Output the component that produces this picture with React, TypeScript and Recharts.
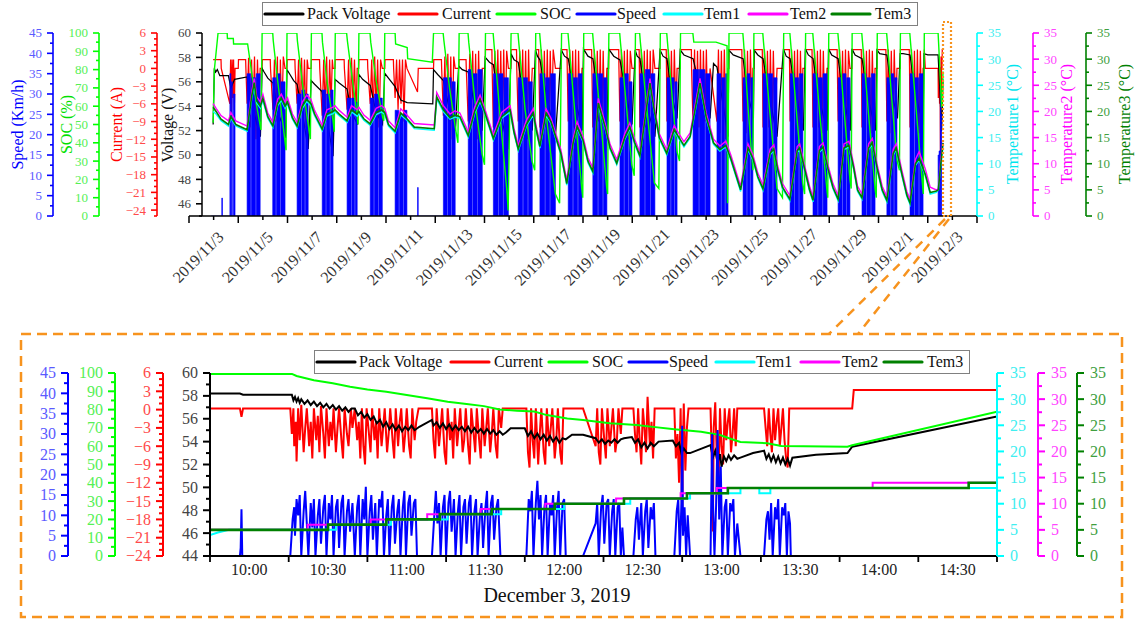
import React from 'react';
import { ComposedChart, Line, Area, XAxis, YAxis, ReferenceLine, Legend } from 'recharts';

const FONT = '"Liberation Serif", "Times New Roman", Times, serif';

// ---------------- names / colours ----------------
const seriesNames = ['Pack Voltage', 'Current', 'SOC', 'Speed', 'Tem1', 'Tem2', 'Tem3'];
const seriesColors = ['#000000', '#ff0000', '#00ff00', '#0000ff', '#00ffff', '#ff00ff', '#008000'];

// ---------------- top chart (days since 2019/11/3 00:00) ----------------
const topDayTicks = [0,1,2,3,4,5,6,7,8,9,10,11,12,13,14,15,16,17,18,19,20,21,22,23,24,25,26,27,28,29,30,31,32];
const topDateLabels = ['2019/11/3','2019/11/5','2019/11/7','2019/11/9','2019/11/11','2019/11/13','2019/11/15','2019/11/17','2019/11/19','2019/11/21','2019/11/23','2019/11/25','2019/11/27','2019/11/29','2019/12/1','2019/12/3'];

const topSpeedTicks = [0,2.5,5,7.5,10,12.5,15,17.5,20,22.5,25,27.5,30,32.5,35,37.5,40,42.5,45];
const topSpeedMajors = [0,5,10,15,20,25,30,35,40,45];
const socTicks = [0,5,10,15,20,25,30,35,40,45,50,55,60,65,70,75,80,85,90,95,100];
const socMajors = [0,10,20,30,40,50,60,70,80,90,100];
const topCurTicks = [-25,-24,-23,-22,-21,-20,-19,-18,-17,-16,-15,-14,-13,-12,-11,-10,-9,-8,-7,-6,-5,-4,-3,-2,-1,0,1,2,3,4,5,6];
const curMajors = [-24,-21,-18,-15,-12,-9,-6,-3,0,3,6];
const topVoltTicks = [45,46,47,48,49,50,51,52,53,54,55,56,57,58,59,60];
const topVoltMajors = [46,48,50,52,54,56,58,60];
const temTicks = [0,2.5,5,7.5,10,12.5,15,17.5,20,22.5,25,27.5,30,32.5,35];
const temMajors = [0,5,10,15,20,25,30,35];

type P = [number, number];

const topSpeed: P[] = [
  [0.9,0],[1.3,0],[1.33,4.4],[1.36,0],[1.66,35],[1.7,0],[1.72,33],[1.76,0],[1.8,30],[1.87,0],
  [2.36,35],[2.5,0],[2.53,34],[2.7,0],[2.73,35],[2.89,0],
  [3.4,34],[3.52,0],[3.55,35],[3.7,0],[3.73,33],[3.9,0],
  [4.39,30],[4.55,0],[4.58,31],[4.7,0],[4.73,30],[4.84,0],
  [5.41,31],[5.55,0],[5.58,30],[5.72,0],[5.75,31],[5.85,0],
  [6.42,29],[6.58,0],[6.61,29],[6.72,0],[6.75,28],[6.83,0],
  [7.36,29],[7.5,0],[7.53,30],[7.68,0],[7.71,29],[7.85,0],
  [8.37,26],[8.52,0],[8.55,25],[8.7,0],[8.73,26],[8.85,0],
  [9.28,7],[9.31,0],
  [10.33,34],[10.48,0],[10.51,34],[10.65,0],[10.68,33],[10.81,0],
  [11.34,36],[11.5,0],[11.53,35],[11.7,0],[11.73,36],[11.91,0],
  [12.36,35],[12.55,0],[12.58,35],[12.75,0],[12.78,34],[12.97,0],
  [13.37,34],[13.55,0],[13.58,34],[13.75,0],[13.78,33],[13.94,0],
  [14.25,35],[14.45,0],[14.48,34],[14.65,0],[14.68,35],[14.88,0],
  [15.4,35],[15.58,0],[15.61,34],[15.78,0],[15.81,35],[15.96,0],
  [16.4,35],[16.6,0],[16.63,35],[16.8,0],[16.83,34],[16.97,0],
  [17.5,34],[17.66,0],[17.69,35],[17.84,0],[17.87,33],[17.99,0],
  [18.31,35],[18.5,0],[18.53,36],[18.72,0],[18.75,35],[18.92,0],
  [19.41,34],[19.55,0],[19.58,34],[19.7,0],[19.73,33],[19.82,0],
  [20.47,36],[20.7,0],[20.73,36],[20.95,0],[20.98,35],[21.16,0],
  [21.44,35],[21.6,0],[21.63,34],[21.76,0],[21.79,35],[21.89,0],
  [22.5,34],[22.64,0],[22.67,35],[22.78,0],[22.81,34],[22.9,0],
  [23.31,35],[23.5,0],[23.53,35],[23.7,0],[23.73,34],[23.88,0],
  [24.41,35],[24.58,0],[24.61,34],[24.76,0],[24.79,35],[24.93,0],
  [25.34,35],[25.52,0],[25.55,34],[25.72,0],[25.75,35],[25.91,0],
  [26.36,34],[26.52,0],[26.55,35],[26.68,0],[26.71,34],[26.84,0],
  [27.33,35],[27.5,0],[27.53,34],[27.68,0],[27.71,35],[27.86,0],
  [28.34,34],[28.48,0],[28.51,35],[28.62,0],[28.65,34],[28.75,0],
  [29.28,35],[29.45,0],[29.48,34],[29.63,0],[29.66,35],[29.81,0],
  [30.42,15],[30.45,0],[30.46,16],[30.5,0],[30.51,32],[30.53,0],[30.54,25],[30.56,0],[30.62,0],
];

const topSoc: P[] = [
  [0.98,51],[1.03,80],[1.18,100],[1.55,100],[1.56,97],[1.8,97],[1.81,94],[2.38,94],[2.55,78],[2.75,60],[2.92,47],[2.97,100],
  [3.4,100],[3.42,96],[3.6,74],[3.8,52],[3.94,36],[3.98,100],
  [4.38,100],[4.4,96],[4.6,73],[4.82,52],[4.93,42],[4.97,100],
  [5.4,100],[5.42,95],[5.62,72],[5.85,52],[5.9,46],[5.94,100],
  [6.4,100],[6.43,96],[6.62,76],[6.83,55],[6.86,50],[6.9,100],
  [7.35,100],[7.38,95],[7.6,74],[7.86,54],[7.91,52],[7.95,100],
  [8.37,100],[8.39,94],[8.86,92],[8.88,86],[9.88,84],[9.93,100],
  [10.32,100],[10.35,96],[10.58,70],[10.82,48],[10.92,40],[10.97,100],
  [11.33,100],[11.36,95],[11.62,62],[11.9,34],[12.0,28],[12.04,100],
  [12.35,100],[12.38,95],[12.65,52],[12.92,12],[12.96,3],[13.08,100],
  [13.36,100],[13.39,95],[13.65,58],[13.93,30],[14.04,25],[14.08,100],
  [14.24,100],[14.27,95],[14.55,50],[14.88,12],[15.05,7],[15.13,100],
  [15.39,100],[15.42,95],[15.7,52],[15.95,15],[15.99,10],[16.03,100],
  [16.39,100],[16.42,95],[16.7,55],[16.96,16],[17.0,12],[17.05,100],
  [17.49,100],[17.52,95],[17.75,62],[17.98,28],[18.08,22],[18.13,100],
  [18.3,100],[18.33,95],[18.62,55],[18.9,18],[19.08,15],[19.14,100],
  [19.4,100],[19.43,95],[19.62,65],[19.82,35],[19.92,30],[19.96,100],
  [20.46,100],[20.5,95],[21.4,95],[21.85,93],[21.87,7],[21.93,100],
  [22.49,100],[22.52,95],[22.7,60],[22.9,25],[22.94,100],
  [23.3,100],[23.33,95],[23.6,55],[23.88,15],[24.1,10],[24.15,100],
  [24.4,100],[24.43,95],[24.68,55],[24.92,18],[25.0,12],[25.04,100],
  [25.33,100],[25.36,95],[25.62,55],[25.9,15],[25.94,10],[25.98,100],
  [26.35,100],[26.38,95],[26.6,58],[26.84,20],[26.89,15],[26.93,100],
  [27.32,100],[27.35,95],[27.6,55],[27.86,15],[27.91,10],[27.95,100],
  [28.33,100],[28.36,95],[28.55,62],[28.76,30],[28.85,25],[28.89,100],
  [29.27,100],[29.3,95],[29.55,55],[29.8,15],[29.82,12],[29.86,100],
  [30.42,100],[30.45,92],[30.56,60],[30.58,60],[30.62,79],
];

const topVolt: P[] = [
  [0.98,52.5],[1.03,57.1],[1.08,56.8],[1.15,57.0],[1.25,56.5],[1.6,56.5],[1.7,55.5],[1.85,56.2],[2.36,56.4],[2.5,54.5],[2.7,53],[2.9,51.5],
  [2.97,57.1],[3.05,56.8],[3.2,56.3],[3.41,55.9],[3.6,53.5],[3.8,52.5],[3.92,51.4],
  [3.98,57.0],[4.1,56.6],[4.25,56.1],[4.39,55.8],[4.6,53.5],[4.84,50.5],
  [4.96,56.1],[5.1,55.8],[5.4,55.2],[5.6,53],[5.85,49.9],
  [5.93,56.2],[6.1,55.9],[6.42,55.4],[6.6,53.5],[6.85,52.5],
  [6.9,56.6],[7.05,56.2],[7.36,55.7],[7.6,53.5],[7.86,52.5],
  [7.95,56.7],[8.1,56.3],[8.37,55.6],[8.6,54.5],[8.86,54.3],[9.9,54.2],
  [9.93,57.0],[10.1,56.6],[10.33,56.1],[10.6,53.5],[10.82,52],
  [10.95,57.3],[11.1,57.0],[11.34,56.8],[11.6,54],[11.9,52],
  [12.03,58.0],[12.2,57.6],[12.36,57.4],[12.6,54],[12.95,50.5],
  [13.08,58.3],[13.2,57.8],[13.37,57.6],[13.6,54.5],[13.94,52],
  [14.07,58.6],[14.15,58.1],[14.25,57.8],[14.5,55],[14.88,51.5],
  [15.12,58.6],[15.25,58.1],[15.4,57.9],[15.7,54.5],[15.97,52],
  [16.02,58.7],[16.2,58.1],[16.4,57.9],[16.7,54],[16.97,51.5],
  [17.04,58.7],[17.25,58.1],[17.5,57.8],[17.75,55],[17.99,52.5],
  [18.12,58.6],[18.2,58.1],[18.31,57.9],[18.6,54],[18.92,51.5],
  [19.13,58.6],[19.25,58.1],[19.41,57.9],[19.6,55],[19.82,53],
  [19.95,58.6],[20.1,58.2],[20.47,57.9],[20.8,55],[21.16,53],[21.3,57.5],[21.44,57.2],[21.7,54],[21.89,51.5],
  [21.92,58.6],[22.1,58.2],[22.5,57.9],[22.7,55],[22.92,53],
  [22.95,58.6],[23.1,58.2],[23.31,57.9],[23.6,54.5],[23.88,51.5],
  [24.14,58.7],[24.25,58.1],[24.41,57.9],[24.7,54.5],[24.95,52],
  [25.03,58.7],[25.15,58.2],[25.34,57.9],[25.6,54.5],[25.92,52],
  [25.97,58.7],[26.1,58.2],[26.36,57.9],[26.6,54.5],[26.86,52],
  [26.92,58.7],[27.05,58.2],[27.33,57.9],[27.6,54.5],[27.88,52],
  [27.94,58.6],[28.05,58.3],[28.34,58.2],[28.55,55],[28.77,53],
  [28.88,58.3],[29.0,58.3],[29.28,58.2],[29.5,55],[29.81,52.5],
  [29.85,58.3],[30.0,58.2],[30.42,58.2],[30.5,55],[30.56,52],[30.58,53],[30.62,56.2],
];

const topCurrent: P[] = [
  [0.98,1.5],[1.3,1.5],[1.31,0],[1.66,-6],[1.69,1.5],[1.72,-8],[1.75,1.5],[1.78,-5],[1.81,1.5],[1.84,-7],[1.87,0],[2.0,0],[2.01,1.5],[2.3,1.5],[2.31,0],
  [2.36,-6],[2.42,1.8],[2.48,-10],[2.54,1.5],[2.6,-8],[2.66,2],[2.72,-12],[2.78,1.5],[2.84,-7],[2.89,0],
  [2.97,0],[2.98,1.5],[3.3,1.5],[3.31,0],
  [3.41,-7],[3.47,1.5],[3.53,-9],[3.59,2],[3.65,-18],[3.71,1.5],[3.77,-8],[3.83,2],[3.9,0],
  [3.98,0],[3.99,1.5],[4.3,1.5],[4.31,0],
  [4.39,-6],[4.45,1.5],[4.51,-9],[4.57,1.8],[4.63,-7],[4.69,1.5],[4.75,-10],[4.8,1.5],[4.84,0],
  [4.96,0],[4.97,1.5],[5.3,1.5],[5.31,0],
  [5.41,-8],[5.47,1.5],[5.53,-7],[5.59,2],[5.65,-10],[5.71,1.5],[5.77,-6],[5.82,1.5],[5.85,0],
  [5.93,0],[5.94,1.5],[6.3,1.5],[6.31,0],
  [6.42,-7],[6.48,1.5],[6.54,-9],[6.6,1.8],[6.66,-6],[6.72,1.5],[6.78,-8],[6.83,0],
  [6.89,0],[6.9,1.5],[7.25,1.5],[7.26,0],
  [7.36,-6],[7.42,1.5],[7.48,-8],[7.54,2],[7.6,-7],[7.66,1.5],[7.72,-10],[7.78,1.5],[7.85,0],
  [7.95,0],[7.96,1.5],[8.3,1.5],[8.31,0],
  [8.37,-5],[8.43,1.5],[8.49,-7],[8.55,1.5],[8.61,-6],[8.67,1.5],[8.73,-9],[8.79,1.5],[8.85,0],
  [9.28,-4],[9.31,0],
  [9.93,0],[9.94,1.5],[10.25,1.5],[10.26,0],
  [10.33,-8],[10.39,2],[10.45,-10],[10.51,2.5],[10.57,-9],[10.63,2],[10.69,-12],[10.75,2],[10.81,0],
  [10.96,0],[10.97,1.5],[11.25,1.5],[11.26,0],
  [11.34,-9],[11.4,2.5],[11.46,-11],[11.52,3],[11.58,-10],[11.64,2.5],[11.7,-12],[11.76,3],[11.82,-9],[11.91,0],
  [12.03,0],[12.04,3.2],[12.3,3.2],[12.31,0],
  [12.36,-10],[12.42,3],[12.48,-12],[12.54,3.2],[12.6,-9],[12.66,3],[12.72,-11],[12.78,3.2],[12.84,-10],[12.9,3],[12.97,0],
  [13.07,0],[13.08,3.2],[13.3,3.2],[13.31,0],
  [13.37,-9],[13.43,3],[13.49,-11],[13.55,3.2],[13.61,-10],[13.67,3],[13.73,-12],[13.79,3.2],[13.85,-9],[13.94,0],
  [14.07,0],[14.08,3.2],[14.2,3.2],[14.21,0],
  [14.25,-10],[14.31,3.2],[14.37,-12],[14.43,3],[14.49,-10],[14.55,3.2],[14.61,-11],[14.67,3],[14.73,-9],[14.79,3.2],[14.88,0],
  [15.12,0],[15.13,3.2],[15.35,3.2],[15.36,0],
  [15.4,-9],[15.46,3.2],[15.52,-11],[15.58,3],[15.64,-10],[15.7,3.2],[15.76,-12],[15.82,3],[15.88,-9],[15.96,0],
  [16.02,0],[16.03,3.2],[16.35,3.2],[16.36,0],
  [16.4,-10],[16.46,3.2],[16.52,-12],[16.58,3],[16.64,-9],[16.7,3.2],[16.76,-11],[16.82,3],[16.88,-10],[16.97,0],
  [17.04,0],[17.05,3.2],[17.45,3.2],[17.46,0],
  [17.5,-9],[17.56,3.2],[17.62,-11],[17.68,3],[17.74,-10],[17.8,3.2],[17.86,-12],[17.92,3],[17.99,0],
  [18.12,0],[18.13,3.2],[18.28,3.2],[18.29,0],
  [18.31,-10],[18.37,3.2],[18.43,-12],[18.49,3],[18.55,-10],[18.61,3.2],[18.67,-11],[18.73,3],[18.79,-9],[18.85,3.2],[18.92,0],
  [19.13,0],[19.14,3.2],[19.38,3.2],[19.39,0],
  [19.41,-9],[19.47,3.2],[19.53,-11],[19.59,3],[19.65,-10],[19.71,3.2],[19.77,-8],[19.82,0],
  [19.95,0],[19.96,3.2],[20.4,3.2],[20.41,0],
  [20.47,-10],[20.53,3.2],[20.59,-12],[20.65,3],[20.71,-10],[20.77,3.2],[20.83,-11],[20.89,3],[20.95,-9],[21.01,3.2],[21.07,-10],[21.16,0],
  [21.44,-9],[21.5,3.2],[21.56,-11],[21.62,3],[21.68,-10],[21.74,3.2],[21.8,-12],[21.89,0],
  [21.92,0],[21.93,3.2],[22.45,3.2],[22.46,0],
  [22.5,-9],[22.56,3.2],[22.62,-11],[22.68,3],[22.74,-10],[22.8,3.2],[22.86,-9],[22.9,0],
  [22.94,0],[22.95,3.2],[23.28,3.2],[23.29,0],
  [23.31,-10],[23.37,3.2],[23.43,-12],[23.49,3],[23.55,-10],[23.61,3.2],[23.67,-11],[23.73,3],[23.79,-9],[23.88,0],
  [24.14,0],[24.15,3.2],[24.38,3.2],[24.39,0],
  [24.41,-9],[24.47,3.2],[24.53,-11],[24.59,3],[24.65,-10],[24.71,3.2],[24.77,-12],[24.83,3],[24.89,-9],[24.93,0],
  [25.03,0],[25.04,3.2],[25.3,3.2],[25.31,0],
  [25.34,-10],[25.4,3.2],[25.46,-12],[25.52,3],[25.58,-10],[25.64,3.2],[25.7,-11],[25.76,3],[25.82,-9],[25.91,0],
  [25.97,0],[25.98,3.2],[26.32,3.2],[26.33,0],
  [26.36,-9],[26.42,3.2],[26.48,-11],[26.54,3],[26.6,-10],[26.66,3.2],[26.72,-12],[26.78,3],[26.84,0],
  [26.92,0],[26.93,3.2],[27.3,3.2],[27.31,0],
  [27.33,-10],[27.39,3.2],[27.45,-12],[27.51,3],[27.57,-10],[27.63,3.2],[27.69,-11],[27.75,3],[27.81,-9],[27.86,0],
  [27.94,0],[27.95,3.2],[28.3,3.2],[28.31,0],
  [28.34,-9],[28.4,3.2],[28.46,-11],[28.52,3],[28.58,-10],[28.64,3.2],[28.7,-8],[28.75,0],
  [28.88,0],[28.89,3.2],[29.25,3.2],[29.26,0],
  [29.28,-10],[29.34,3.2],[29.4,-12],[29.46,3],[29.52,-10],[29.58,3.2],[29.64,-11],[29.7,3],[29.76,-9],[29.81,0],
  [29.85,0],[29.86,3.2],[29.9,0],[30.42,0],
  [30.43,-5],[30.46,0.2],[30.48,-6],[30.5,0.2],[30.52,-19],[30.54,2],[30.55,-5],[30.56,0],[30.58,0],[30.59,3.2],[30.62,3.2],
];

// [t, Tem1, Tem2, Tem3]
const topTem: [number, number, number, number][] = [
  [0.98,20.0,21.5,20.8],[1.1,19.5,20.6,20.0],[1.3,18.2,19.2,18.5],[1.6,17.2,18.2,17.5],[1.7,18.7,19.8,19.0],[1.9,17.2,18.2,17.5],
  [2.36,16.2,17.2,16.5],[2.55,22.6,23.8,23.0],[2.65,25.0,26.3,25.5],[2.75,21.6,22.8,22.0],[2.9,20.6,21.8,21.0],[3.0,22.1,23.3,22.5],
  [3.2,18.7,19.7,19.0],[3.41,16.9,17.9,17.2],[3.6,21.1,22.3,21.5],[3.75,22.1,23.3,22.5],[3.9,20.6,21.8,21.0],[4.0,21.4,22.6,21.8],
  [4.2,18.5,19.5,18.8],[4.39,16.9,17.9,17.2],[4.6,20.6,21.8,21.0],[4.78,21.9,23.1,22.3],[4.95,21.1,22.3,21.5],[5.1,19.2,20.2,19.5],
  [5.41,16.3,17.3,16.6],[5.6,19.1,20.3,19.5],[5.85,19.6,20.8,20.0],[5.93,19.9,21.1,20.3],[6.1,19.2,20.2,19.5],[6.42,17.9,18.9,18.2],
  [6.6,19.9,21.1,20.3],[6.83,19.1,20.3,19.5],[6.9,19.6,20.8,20.0],[7.1,18.3,19.3,18.6],[7.36,17.3,18.3,17.6],[7.6,19.4,20.6,19.8],
  [7.82,19.9,21.1,20.3],[7.95,19.4,20.6,19.8],[8.1,17.2,18.2,17.5],[8.37,15.9,16.9,16.2],[8.6,19.3,20.5,19.7],[8.85,18.3,19.3,18.6],
  [9.15,16.7,17.7,17.0],[9.96,16.4,17.4,16.7],[10.06,22.4,23.6,22.8],[10.33,19.9,21.1,20.3],[10.6,18.5,19.5,18.8],[10.8,18.9,20.1,19.3],
  [11.0,18.7,19.7,19.0],[11.34,15.1,16.1,15.4],[11.6,19.6,20.8,20.0],[11.82,21.9,23.1,22.3],[12.0,19.7,20.7,20.0],[12.36,14.5,15.5,14.8],
  [12.7,18.7,19.8,19.0],[13.04,19.9,21.1,20.3],[13.2,15.7,16.7,16.0],[13.37,12.5,13.5,12.8],[13.7,17.2,18.3,17.5],[13.98,19.3,20.5,19.7],
  [14.1,16.2,17.2,16.5],[14.25,13.0,14.0,13.3],[14.5,19.3,20.5,19.7],[14.7,17.7,18.7,18.0],[14.9,14.7,15.7,15.0],[15.1,11.7,12.7,12.0],
  [15.34,5.9,6.9,6.2],[15.6,13.7,14.8,14.0],[15.76,16.8,18.0,17.1],[16.0,14.2,15.2,14.5],[16.2,10.2,11.2,10.5],[16.4,8.2,9.2,8.5],
  [16.62,21.2,22.5,21.6],[16.9,16.7,17.7,17.0],[17.1,12.7,13.7,13.0],[17.37,9.8,10.8,10.1],[17.7,14.7,15.8,15.0],[17.9,16.7,17.8,17.0],
  [18.1,13.7,14.7,14.0],[18.31,11.2,12.2,11.5],[18.72,25.0,26.3,25.4],[18.9,19.7,20.7,20.0],[19.1,14.7,15.7,15.0],[19.4,11.7,12.7,12.0],
  [19.7,16.2,17.3,16.5],[19.9,14.7,15.7,15.0],[20.1,13.2,14.2,13.5],[20.35,14.9,15.9,15.2],[20.75,25.0,26.3,25.4],[21.0,18.7,19.7,19.0],
  [21.3,13.7,14.7,14.0],[21.56,12.4,13.4,12.7],[21.8,13.2,14.3,13.5],[22.0,10.7,11.7,11.0],[22.4,4.7,5.7,5.0],[22.7,12.7,13.8,13.0],
  [22.9,10.7,11.7,11.0],[23.1,7.2,8.2,7.5],[23.31,4.9,5.9,5.2],[23.6,11.7,12.8,12.0],[23.75,12.5,13.6,12.8],[23.9,8.7,9.7,9.0],
  [24.1,5.2,6.2,5.5],[24.4,2.9,3.9,3.2],[24.7,12.2,13.3,12.5],[24.8,12.7,13.8,13.0],[25.0,8.7,9.7,9.0],[25.2,4.7,5.7,5.0],
  [25.34,2.7,3.7,3.0],[25.6,12.2,13.3,12.5],[25.75,12.9,14.0,13.2],[25.95,8.7,9.7,9.0],[26.15,5.2,6.2,5.5],[26.36,2.9,3.9,3.2],
  [26.6,12.7,13.8,13.0],[26.8,13.2,14.3,13.5],[27.0,8.7,9.7,9.0],[27.15,4.7,5.7,5.0],[27.33,3.2,4.2,3.5],[27.6,12.7,13.8,13.0],
  [27.75,13.7,14.8,14.0],[27.95,8.7,9.7,9.0],[28.15,4.7,5.7,5.0],[28.34,2.7,3.7,3.0],[28.6,11.7,12.8,12.0],[28.72,12.7,13.8,13.0],
  [28.95,7.7,8.7,8.0],[29.15,3.7,4.7,4.0],[29.28,2.2,3.2,2.5],[29.5,9.7,10.8,10.0],[29.65,10.7,12.3,11.0],[29.9,7.7,9.0,8.0],
  [30.1,4.2,5.5,4.5],[30.35,4.5,5.0,4.8],[30.43,5.0,5.2,5.0],[30.52,9.5,10.5,9.5],[30.62,13.0,14.0,14.0],
];

// ---------------- bottom chart (hours of 2019/12/3) ----------------
const bottomTickMarks = [9.75,10.25,10.75,11.25,11.75,12.25,12.75,13.25,13.75,14.25,14.75];
const bottomLabelTimes = [10,10.5,11,11.5,12,12.5,13,13.5,14,14.5];
const bottomLabelTexts = ['10:00','10:30','11:00','11:30','12:00','12:30','13:00','13:30','14:00','14:30'];
const bottomCurTicks = [-24,-23,-22,-21,-20,-19,-18,-17,-16,-15,-14,-13,-12,-11,-10,-9,-8,-7,-6,-5,-4,-3,-2,-1,0,1,2,3,4,5,6];
const bottomVoltTicks = [44,45,46,47,48,49,50,51,52,53,54,55,56,57,58,59,60];
const bottomVoltMajors = [44,46,48,50,52,54,56,58,60];
const bottomSpeedTicks = [0,2.5,5,7.5,10,12.5,15,17.5,20,22.5,25,27.5,30,32.5,35,37.5,40,42.5,45];

const bottomSoc: P[] = [
  [9.75,99.5],[10.27,99.5],[10.3,98.4],[10.41,96],[10.53,94.4],[10.64,92.5],[10.75,91],[10.87,89.8],[11.0,88],[11.13,86.2],
  [11.26,84.3],[11.38,83],[11.49,81.9],[11.59,80.1],[11.7,79.4],[11.81,78.9],[11.89,77],[12.02,75.2],[12.12,74.3],[12.29,72.5],
  [12.46,71.6],[12.55,70.7],[12.7,69.2],[12.87,67.9],[12.99,66.1],[13.08,63.4],[13.12,62.3],[13.29,61.6],[13.38,60.1],[13.8,59.7],
  [13.83,60.5],[14.75,78.9],
];

const bottomVolt: P[] = [
  [9.75,58.2],[9.94,58.2],[9.96,58.1],[10.27,58.1],
  [10.28,57.6],[10.29,57.9],[10.3,57.5],[10.31,57.8],[10.32,57.4],[10.33,57.7],[10.35,57.3],[10.37,57.6],[10.39,57.2],[10.41,57.5],
  [10.43,57.1],[10.45,57.4],[10.47,57.0],[10.49,57.3],[10.51,56.9],[10.53,57.2],[10.55,56.8],[10.57,57.1],[10.59,56.7],[10.61,57.0],
  [10.63,56.6],[10.65,56.9],[10.67,56.9],
  [10.69,56.3],[10.71,56.6],[10.73,56.1],[10.75,56.4],[10.77,55.9],[10.79,56.2],[10.81,55.6],[10.83,55.9],[10.85,55.3],[10.87,55.7],
  [10.89,55.1],[10.91,55.5],[10.93,55.0],[10.95,55.4],[10.97,54.9],[10.99,55.3],[11.01,55.0],[11.03,55.4],[11.05,55.0],[11.08,55.3],
  [11.16,55.9],[11.17,55.4],[11.19,55.7],[11.21,55.2],[11.23,55.6],[11.25,55.1],[11.27,55.5],[11.29,55.0],[11.31,55.4],[11.33,55.0],
  [11.35,55.3],[11.37,54.9],[11.39,55.3],[11.41,54.8],[11.43,55.2],[11.45,54.8],[11.47,55.1],[11.49,54.7],[11.51,55.1],[11.53,54.7],
  [11.55,55.0],[11.57,54.6],[11.59,54.9],[11.61,54.6],[11.63,54.8],[11.66,55.16],[11.75,55.16],
  [11.77,54.5],[11.79,54.9],[11.81,54.3],[11.83,54.7],[11.85,54.2],[11.87,54.6],[11.89,54.1],[11.91,54.5],[11.93,54.0],[11.95,54.4],
  [11.97,53.9],[11.99,54.3],[12.01,54.2],[12.05,54.6],[12.12,54.6],[12.2,54.3],
  [12.22,53.9],[12.24,54.2],[12.26,53.8],[12.28,54.1],[12.3,53.9],[12.32,54.2],[12.34,53.9],[12.36,54.2],[12.38,54.3],[12.43,54.4],
  [12.45,53.9],[12.47,54.2],[12.49,53.5],[12.51,53.9],[12.53,53.4],[12.55,53.9],[12.57,53.6],[12.6,54.0],[12.69,54.1],
  [12.71,53.6],[12.73,53.9],[12.745,53.0],[12.76,53.4],[12.78,53.0],[12.8,53.0],[12.93,53.7],
  [12.945,52.6],[12.96,53.2],[12.975,52.2],[12.99,52.9],[13.0,51.8],[13.015,52.7],[13.03,52.3],[13.045,52.8],[13.06,52.4],[13.08,52.8],
  [13.1,52.5],[13.12,52.6],[13.2,53.0],[13.27,53.2],
  [13.285,52.5],[13.3,52.9],[13.315,52.3],[13.33,52.8],[13.345,52.2],[13.36,52.7],[13.375,52.1],[13.39,52.6],[13.405,52.0],[13.42,52.5],
  [13.435,51.9],[13.45,52.6],[13.6,52.85],[13.8,53.0],[13.83,53.55],[14.75,56.2],
];

const bottomCurrent: P[] = [
  [9.75,0.2],[9.94,0.2],[9.95,-1.2],[9.96,0.2],
  [10.26,0.2],[10.27,-4],[10.28,0.2],[10.285,-6],[10.295,-2],[10.3,-8.5],[10.31,0.2],[10.32,-5],[10.33,0.8],[10.345,-7],[10.355,-3],
  [10.365,0.2],[10.38,-6],[10.39,-2],[10.4,-8],[10.41,0.2],[10.425,-5],[10.435,-1],[10.445,-7],[10.455,0.6],[10.47,-4],[10.48,-8],
  [10.49,0.2],[10.505,-6],[10.515,-2],[10.525,-5],[10.535,0.2],[10.55,-7],[10.56,-3],[10.57,0.2],[10.585,-5],[10.595,-8],[10.605,0.2],
  [10.62,-4],[10.63,-6],[10.645,0.2],[10.655,-3],[10.67,0.2],
  [10.685,-5],[10.695,-2],[10.705,-8],[10.715,0.2],[10.725,-6],[10.735,-9],[10.745,0.2],[10.76,-4],[10.77,-7],[10.78,0.2],[10.795,-5],
  [10.805,-2],[10.815,-8],[10.825,0.2],[10.84,-6],[10.85,-3],[10.86,0.2],[10.875,-7],[10.885,-4],[10.895,0.2],[10.91,-5],[10.92,-8],
  [10.93,0.2],[10.945,-6],[10.955,-2],[10.965,0.2],[10.98,-7],[10.99,-4],[11.0,0.2],[11.015,-6],[11.025,-8],[11.035,0.2],[11.05,-5],
  [11.06,-2],[11.075,0.2],
  [11.16,0.2],[11.17,-5],[11.18,-8],[11.19,0.2],[11.205,-6],[11.215,-3],[11.225,0.2],[11.24,-7],[11.25,-9],[11.26,0.2],[11.275,-5],
  [11.285,-2],[11.295,-8],[11.305,0.2],[11.32,-6],[11.33,-3],[11.34,0.2],[11.355,-7],[11.365,-5],[11.375,0.2],[11.39,-6],[11.4,-9],
  [11.41,0.2],[11.425,-4],[11.435,-7],[11.445,0.2],[11.46,-5],[11.47,-8],[11.48,0.2],[11.495,-6],[11.505,-3],[11.515,0.2],[11.53,-7],
  [11.54,-4],[11.55,0.2],[11.565,-6],[11.575,-8],[11.585,0.2],[11.6,-3],[11.61,0.2],
  [11.76,0.2],[11.77,-7],[11.78,-9.5],[11.79,0.2],[11.8,-5],[11.81,-8],[11.82,0.2],[11.835,-9],[11.845,-4],[11.855,0.2],[11.87,-7],
  [11.88,-9],[11.89,0.2],[11.905,-6],[11.915,-3],[11.925,0.2],[11.94,-8],[11.95,-5],[11.96,0.2],[11.975,-7],[11.985,-9],[11.995,0.2],
  [12.01,0.2],[12.12,0.2],[12.2,-6],
  [12.21,0.2],[12.22,-7],[12.23,-9],[12.24,0.2],[12.255,-5],[12.265,-8],[12.275,0.2],[12.29,-6],[12.3,-3],[12.31,0.2],[12.325,-7],
  [12.335,-5],[12.345,0.2],[12.36,-4],[12.37,0.2],
  [12.44,0.2],[12.45,-4],[12.46,-7],[12.47,0.2],[12.48,-5],[12.49,-9],[12.5,0.2],[12.51,-3],[12.52,-7],[12.53,2.1],[12.545,-6],
  [12.555,-2],[12.565,-8],[12.575,0.2],[12.6,0.2],
  [12.7,0.2],[12.71,-8],[12.72,-4],[12.73,-12],[12.74,0.2],[12.745,-9],[12.75,-19],[12.755,-5],[12.76,1.0],[12.77,-10],[12.78,-3],
  [12.79,0.2],[12.8,0.2],
  [12.93,0.2],[12.94,-10],[12.945,-20],[12.95,-3],[12.96,1.2],[12.97,-8],[12.98,-14],[12.99,0.2],[13.0,-6],[13.01,-9],[13.02,0.2],
  [13.03,-5],[13.04,-2],[13.05,0.2],[13.06,-7],[13.07,-4],[13.08,0.2],[13.09,-6],[13.1,0.2],[13.12,0.2],
  [13.27,0.2],[13.28,-3],[13.29,-6],[13.3,0.2],[13.31,-4],[13.32,-7],[13.33,0.2],[13.34,-5],[13.35,-2],[13.36,0.2],[13.37,-6],
  [13.38,-3],[13.39,0.2],[13.4,-5],[13.41,-8],[13.42,-9.5],[13.43,0.2],[13.44,0.2],
  [13.83,0.2],[13.84,3.2],[14.75,3.2],
];

const bottomSpeed: P[] = [
  [9.75,0],[9.94,0],[9.945,2],[9.95,11.5],[9.955,0],
  [10.26,0],[10.275,9],[10.285,12],[10.29,5],[10.3,14],[10.31,10],[10.32,15],[10.33,0],[10.345,11],[10.355,16],[10.365,8],[10.375,0],
  [10.39,13],[10.4,7],[10.41,14],[10.42,0],[10.435,10],[10.445,14],[10.455,3],[10.47,12],[10.48,15],[10.49,0],[10.505,13],[10.515,9],
  [10.525,15],[10.535,0],[10.55,12],[10.56,14],[10.57,2],[10.585,13],[10.595,15],[10.605,0],[10.62,11],[10.63,14],[10.64,6],[10.655,13],
  [10.67,0],
  [10.685,12],[10.695,15],[10.705,0],[10.72,14],[10.73,9],[10.74,17],[10.75,0],[10.765,11],[10.775,15],[10.785,4],[10.8,13],[10.81,0],
  [10.825,14],[10.835,12],[10.845,16],[10.855,0],[10.87,10],[10.88,14],[10.89,0],[10.905,12],[10.915,15],[10.925,3],[10.94,11],
  [10.95,14],[10.96,0],[10.975,12],[10.985,16],[10.995,0],[11.01,13],[11.02,15],[11.03,5],[11.045,13],[11.055,14],[11.065,0],[11.08,0],
  [11.16,0],[11.175,10],[11.185,16],[11.195,8],[11.205,13],[11.215,0],[11.23,12],[11.24,15],[11.25,0],[11.265,13],[11.275,16],
  [11.285,6],[11.3,14],[11.31,0],[11.325,11],[11.335,15],[11.345,0],[11.36,12],[11.37,14],[11.38,3],[11.395,13],[11.405,15],
  [11.415,0],[11.43,11],[11.44,14],[11.45,0],[11.465,10],[11.475,13],[11.485,2],[11.5,12],[11.51,16],[11.52,0],[11.535,13],
  [11.545,15],[11.555,4],[11.57,12],[11.58,14],[11.595,0],[11.61,0],
  [11.76,0],[11.775,14],[11.785,11],[11.795,16],[11.805,0],[11.82,13],[11.83,18.5],[11.84,9],[11.85,15],[11.86,0],[11.875,12],
  [11.885,15],[11.895,0],[11.91,13],[11.92,10],[11.93,15],[11.94,0],[11.955,12],[11.965,16],[11.975,0],[11.99,13],[12.0,14],[12.01,0],
  [12.12,0],[12.2,8],
  [12.21,13],[12.22,0],[12.235,12],[12.245,15],[12.255,3],[12.27,13],[12.28,14],[12.29,0],[12.305,11],[12.315,14],[12.325,0],
  [12.34,12],[12.35,13],[12.36,0],[12.37,7],[12.38,0],
  [12.44,0],[12.455,9],[12.465,12],[12.475,4],[12.49,13],[12.5,0],[12.515,11],[12.525,14],[12.535,2],[12.55,12],[12.56,9],[12.57,13],
  [12.58,0],[12.6,0],
  [12.7,0],[12.715,11],[12.725,14],[12.735,0],[12.745,13],[12.75,32],[12.755,5],[12.765,12],[12.775,0],[12.785,10],[12.8,0],
  [12.93,0],[12.94,30],[12.945,14],[12.955,0],[12.965,12],[12.975,31],[12.985,9],[12.995,22],[13.005,0],[13.02,12],[13.03,14],
  [13.04,0],[13.055,13],[13.065,11],[13.075,14],[13.085,0],[13.1,8],[13.12,0],
  [13.27,0],[13.285,9],[13.295,11],[13.305,4],[13.315,13],[13.325,0],[13.34,12],[13.35,9],[13.36,14],[13.37,0],[13.385,12],[13.395,10],
  [13.405,13],[13.415,0],[13.425,11],[13.435,8],[13.44,0],
];

const bottomTem1: P[] = [
  [9.75,4],[9.8,4.5],[9.87,5],[10.55,5],[10.55,6],[10.9,6],[10.9,7],[11.26,7],[11.26,8],[11.6,8],[11.6,9],[12.0,9],[12.0,10],
  [12.42,10],[12.42,11],[12.8,11],[12.8,12],[13.12,12],[13.12,13],[13.24,13],[13.24,12],[13.31,12],[13.31,13],[14.75,13],
];
const bottomTem2: P[] = [
  [9.75,5],[10.37,5],[10.37,6],[10.77,6],[10.77,7],[11.13,7],[11.13,8],[11.47,8],[11.47,9],[11.88,9],[11.88,10],[12.33,10],[12.33,11],
  [12.74,11],[12.74,12],[12.97,12],[12.97,13],[13.96,13],[13.96,14],[14.75,14],
];
const bottomTem3: P[] = [
  [9.75,5],[10.5,5],[10.5,6],[10.87,6],[10.87,7],[11.21,7],[11.21,8],[11.54,8],[11.54,9],[11.94,9],[11.94,10],[12.38,10],[12.38,11],
  [12.78,11],[12.78,12],[13.04,12],[13.04,13],[14.57,13],[14.57,14],[14.75,14],
];

// ---------------- helpers ----------------
const pts = (a: P[]) => a.map(([t, v]) => ({ t, v }));
const temPts = (i: number) => topTem.map((r) => ({ t: r[0], v: r[i] }));
const fmt = (v: number) => (v < 0 ? '\u2212' + Math.abs(v) : String(v));

type YTickOpts = {
  color: string; text: string; side: 'left' | 'right'; majors: number[]; fontSize: number;
  majorLen: number; minorLen: number; gap: number; shift?: number; sw: number;
};
const makeYTick = (o: YTickOpts) => (props: any) => {
  const { x, y, payload } = props;
  const v = Number(payload.value);
  const major = o.majors.indexOf(v) >= 0;
  const ax = x + (o.shift || 0);
  const dir = o.side === 'left' ? -1 : 1;
  const len = major ? o.majorLen : o.minorLen;
  return (
    <g>
      <line x1={ax} x2={ax + dir * len} y1={y} y2={y} stroke={o.color} strokeWidth={o.sw} />
      {major && (
        <text x={ax + dir * (o.majorLen + o.gap)} y={y} dy="0.34em" textAnchor={o.side === 'left' ? 'end' : 'start'}
          fontSize={o.fontSize} fontFamily={FONT} fill={o.text}>{fmt(v)}</text>
      )}
    </g>
  );
};

const TopXTick = (props: any) => {
  const { x, y, payload } = props;
  const d = Number(payload.value);
  const major = d % 2 === 0;
  const label = major ? topDateLabels[d / 2] : undefined;
  const cx = x + 9;
  const cy = y + 41;
  return (
    <g>
      <line x1={x} x2={x} y1={y} y2={y + (major ? 7 : 4)} stroke="#000" strokeWidth={1.5} />
      {label && (
        <text x={cx} y={cy} transform={`rotate(-45 ${cx} ${cy})`} textAnchor="middle" dominantBaseline="central"
          fontSize={16} fontFamily={FONT} fill="#333">{label}</text>
      )}
    </g>
  );
};

const BottomXTick = (props: any) => {
  const { x, y, payload } = props;
  const h = Number(payload.value);
  const li = bottomLabelTimes.indexOf(h);
  if (li >= 0) {
    return (
      <text x={x} y={y + 13} textAnchor="middle" dominantBaseline="central" fontSize={16} fontFamily={FONT} fill="#222">
        {bottomLabelTexts[li]}
      </text>
    );
  }
  return <line x1={x} x2={x} y1={y} y2={y + 6} stroke="#000" strokeWidth={1.8} />;
};

const legendLineX = [1, 135, 233, 313, 400, 485, 568];
const legendTextX = [45, 180, 278, 355, 442, 528, 613];
const LegendBox = () => (
  <svg width={656} height={24} style={{ display: 'block' }}>
    <rect x={0.5} y={0.5} width={655} height={23} fill="#fff" stroke="#808080" strokeWidth={1} />
    {seriesNames.map((n, i) => (
      <g key={n}>
        <line x1={legendLineX[i] + 2} x2={legendLineX[i] + 40} y1={12} y2={12} stroke={seriesColors[i]} strokeWidth={3.2} strokeLinecap="round" />
        <text x={legendTextX[i]} y={12} dy="0.34em" fontSize={16} fontFamily={FONT} fill="#111">{n}</text>
      </g>
    ))}
  </svg>
);

const bothTicks = [...bottomTickMarks, ...bottomLabelTimes].sort((a, b) => a - b);

// axis ids sort alphabetically: the first one is drawn nearest the plot
const ID_V = 'a_volt';
const ID_C = 'b_cur';
const ID_S = 'c_soc';
const ID_P = 'd_spd';
const ID_T1 = 'e_t1';
const ID_T2 = 'f_t2';
const ID_T3 = 'g_t3';

// tick label colours (lighter tints as in the reference)
const TXT = { v: '#444', c: '#ff4a4a', s: '#55f055', p: '#5a5aff', t1: '#40eef0', t2: '#ff45ff', t3: '#3f9f3f' };

// ---------------- charts ----------------
const TopChart = () => {
  const sw = 1.25;
  const axisSW = 1.6;
  const common = { fontSize: 13, majorLen: 6, minorLen: 3, gap: 5, sw: axisSW };
  return (
    <ComposedChart width={1141} height={300} margin={{ top: 33, right: 5, bottom: 4, left: 8 }}>
      <XAxis dataKey="t" type="number" domain={[0, 32]} ticks={topDayTicks} interval={0} allowDataOverflow height={80}
        tickSize={0} tickMargin={0} tickLine={false} axisLine={{ stroke: '#000', strokeWidth: 1.5 }} tick={TopXTick} />
      <YAxis yAxisId={ID_V} orientation="left" width={32} domain={[45, 60]} ticks={topVoltTicks} interval={0} allowDataOverflow
        axisLine={false} tickLine={false} tickSize={0} tickMargin={0}
        tick={makeYTick({ ...common, color: '#000', text: TXT.v, side: 'left', majors: topVoltMajors, shift: 13 })} />
      <YAxis yAxisId={ID_C} orientation="left" width={58} domain={[-25, 6]} ticks={topCurTicks} interval={0} allowDataOverflow
        axisLine={{ stroke: '#ff0000', strokeWidth: axisSW }} tickLine={false} tickSize={0} tickMargin={0}
        tick={makeYTick({ ...common, color: '#ff0000', text: TXT.c, side: 'left', majors: curMajors })} />
      <YAxis yAxisId={ID_S} orientation="left" width={46} domain={[0, 100]} ticks={socTicks} interval={0} allowDataOverflow
        axisLine={{ stroke: '#00ff00', strokeWidth: axisSW }} tickLine={false} tickSize={0} tickMargin={0}
        tick={makeYTick({ ...common, color: '#00ff00', text: TXT.s, side: 'left', majors: socMajors })} />
      <YAxis yAxisId={ID_P} orientation="left" width={45} domain={[0, 45]} ticks={topSpeedTicks} interval={0} allowDataOverflow
        axisLine={{ stroke: '#0000ff', strokeWidth: axisSW }} tickLine={false} tickSize={0} tickMargin={0}
        tick={makeYTick({ ...common, color: '#0000ff', text: TXT.p, side: 'left', majors: topSpeedMajors })} />
      <YAxis yAxisId={ID_T1} orientation="right" width={56} domain={[0, 35]} ticks={temTicks} interval={0} allowDataOverflow
        axisLine={{ stroke: '#00ffff', strokeWidth: axisSW }} tickLine={false} tickSize={0} tickMargin={0}
        tick={makeYTick({ ...common, color: '#00ffff', text: TXT.t1, side: 'right', majors: temMajors })} />
      <YAxis yAxisId={ID_T2} orientation="right" width={53} domain={[0, 35]} ticks={temTicks} interval={0} allowDataOverflow
        axisLine={{ stroke: '#ff00ff', strokeWidth: axisSW }} tickLine={false} tickSize={0} tickMargin={0}
        tick={makeYTick({ ...common, color: '#ff00ff', text: TXT.t2, side: 'right', majors: temMajors })} />
      <YAxis yAxisId={ID_T3} orientation="right" width={50} domain={[0, 35]} ticks={temTicks} interval={0} allowDataOverflow
        axisLine={{ stroke: '#008000', strokeWidth: axisSW }} tickLine={false} tickSize={0} tickMargin={0}
        tick={makeYTick({ ...common, color: '#008000', text: TXT.t3, side: 'right', majors: temMajors })} />
      <ReferenceLine yAxisId={ID_V} x={0.528} stroke="#000" strokeWidth={1.5} ifOverflow="visible" />
      <Area yAxisId={ID_C} data={pts(topCurrent)} dataKey="v" type="linear" stroke="#ff0000" strokeWidth={sw} fill="none" fillOpacity={0}
        isAnimationActive={false} dot={false} activeDot={false} />
      <Area yAxisId={ID_V} data={pts(topVolt)} dataKey="v" type="linear" stroke="#000" strokeWidth={sw} fill="none" fillOpacity={0}
        isAnimationActive={false} dot={false} activeDot={false} />
      <Area yAxisId={ID_P} data={pts(topSpeed)} dataKey="v" type="stepAfter" stroke="#0000ff" strokeWidth={0.6} fill="#0000ff"
        fillOpacity={1} isAnimationActive={false} dot={false} activeDot={false} />
      <Line yAxisId={ID_S} data={pts(topSoc)} dataKey="v" stroke="#00ff00" strokeWidth={1.4} dot={false} activeDot={false} isAnimationActive={false} />
      <Line yAxisId={ID_T1} data={temPts(1)} dataKey="v" stroke="#00ffff" strokeWidth={1.4} dot={false} activeDot={false} isAnimationActive={false} />
      <Line yAxisId={ID_T2} data={temPts(2)} dataKey="v" stroke="#ff00ff" strokeWidth={1.4} dot={false} activeDot={false} isAnimationActive={false} />
      <Line yAxisId={ID_T3} data={temPts(3)} dataKey="v" stroke="#008000" strokeWidth={1.6} dot={false} activeDot={false} isAnimationActive={false} />
      <Legend layout="horizontal" verticalAlign="middle" align="center" content={() => <LegendBox />}
        wrapperStyle={{ position: 'absolute', top: 2, left: 262, width: 656, height: 24 }} />
    </ComposedChart>
  );
};

const BottomChart = () => {
  const sw = 2;
  const axisSW = 2;
  const common = { fontSize: 16, majorLen: 7, minorLen: 4, gap: 5, sw: axisSW };
  return (
    <ComposedChart width={1141} height={290} margin={{ top: 43, right: 24, bottom: 4, left: 28 }}>
      <XAxis dataKey="t" type="number" domain={[9.75, 14.75]} ticks={bothTicks} interval={0} allowDataOverflow height={60}
        tickSize={0} tickMargin={0} tickLine={false} axisLine={{ stroke: '#000', strokeWidth: 2 }} tick={BottomXTick} />
      <YAxis yAxisId={ID_V} orientation="left" width={47} domain={[44, 60]} ticks={bottomVoltTicks} interval={0} allowDataOverflow
        axisLine={{ stroke: '#000', strokeWidth: axisSW }} tickLine={false} tickSize={0} tickMargin={0}
        tick={makeYTick({ ...common, color: '#000', text: TXT.v, side: 'left', majors: bottomVoltMajors })} />
      <YAxis yAxisId={ID_C} orientation="left" width={48} domain={[-24, 6]} ticks={bottomCurTicks} interval={0} allowDataOverflow
        axisLine={{ stroke: '#ff0000', strokeWidth: axisSW }} tickLine={false} tickSize={0} tickMargin={0}
        tick={makeYTick({ ...common, color: '#ff0000', text: TXT.c, side: 'left', majors: curMajors })} />
      <YAxis yAxisId={ID_S} orientation="left" width={47} domain={[0, 100]} ticks={socTicks} interval={0} allowDataOverflow
        axisLine={{ stroke: '#00ff00', strokeWidth: axisSW }} tickLine={false} tickSize={0} tickMargin={0}
        tick={makeYTick({ ...common, color: '#00ff00', text: TXT.s, side: 'left', majors: socMajors })} />
      <YAxis yAxisId={ID_P} orientation="left" width={40} domain={[0, 45]} ticks={bottomSpeedTicks} interval={0} allowDataOverflow
        axisLine={{ stroke: '#0000ff', strokeWidth: axisSW }} tickLine={false} tickSize={0} tickMargin={0}
        tick={makeYTick({ ...common, color: '#0000ff', text: TXT.p, side: 'left', majors: topSpeedMajors })} />
      <YAxis yAxisId={ID_T1} orientation="right" width={41} domain={[0, 35]} ticks={temTicks} interval={0} allowDataOverflow
        axisLine={{ stroke: '#00ffff', strokeWidth: axisSW }} tickLine={false} tickSize={0} tickMargin={0}
        tick={makeYTick({ ...common, gap: 6, color: '#00ffff', text: TXT.t1, side: 'right', majors: temMajors })} />
      <YAxis yAxisId={ID_T2} orientation="right" width={39} domain={[0, 35]} ticks={temTicks} interval={0} allowDataOverflow
        axisLine={{ stroke: '#ff00ff', strokeWidth: axisSW }} tickLine={false} tickSize={0} tickMargin={0}
        tick={makeYTick({ ...common, gap: 6, color: '#ff00ff', text: TXT.t2, side: 'right', majors: temMajors })} />
      <YAxis yAxisId={ID_T3} orientation="right" width={40} domain={[0, 35]} ticks={temTicks} interval={0} allowDataOverflow
        axisLine={{ stroke: '#008000', strokeWidth: axisSW }} tickLine={false} tickSize={0} tickMargin={0}
        tick={makeYTick({ ...common, gap: 6, color: '#008000', text: TXT.t3, side: 'right', majors: temMajors })} />
      <Line yAxisId={ID_C} data={pts(bottomCurrent)} dataKey="v" stroke="#ff0000" strokeWidth={sw} dot={false} activeDot={false} isAnimationActive={false} />
      <Line yAxisId={ID_V} data={pts(bottomVolt)} dataKey="v" stroke="#000" strokeWidth={sw} dot={false} activeDot={false} isAnimationActive={false} />
      <Line yAxisId={ID_S} data={pts(bottomSoc)} dataKey="v" stroke="#00ff00" strokeWidth={sw} dot={false} activeDot={false} isAnimationActive={false} />
      <Line yAxisId={ID_P} data={pts(bottomSpeed)} dataKey="v" stroke="#0000ff" strokeWidth={sw} dot={false} activeDot={false} isAnimationActive={false} />
      <Line yAxisId={ID_T1} data={pts(bottomTem1)} dataKey="v" stroke="#00ffff" strokeWidth={sw} dot={false} activeDot={false} isAnimationActive={false} />
      <Line yAxisId={ID_T2} data={pts(bottomTem2)} dataKey="v" stroke="#ff00ff" strokeWidth={sw} dot={false} activeDot={false} isAnimationActive={false} />
      <Line yAxisId={ID_T3} data={pts(bottomTem3)} dataKey="v" stroke="#008000" strokeWidth={2.6} dot={false} activeDot={false} isAnimationActive={false} />
      <Legend layout="horizontal" verticalAlign="middle" align="center" content={() => <LegendBox />}
        wrapperStyle={{ position: 'absolute', top: 20, left: 314, width: 656, height: 24 }} />
    </ComposedChart>
  );
};

const Title = ({ x, y, color, children }: { x: number; y: number; color: string; children: React.ReactNode }) => (
  <text x={x} y={y} transform={`rotate(-90 ${x} ${y})`} textAnchor="middle" dominantBaseline="central"
    fontSize={16} fontFamily={FONT} fill={color}>{children}</text>
);

export default function App() {
  const orange = '#f7931e';
  return (
    <div style={{ position: 'absolute', left: 0, top: 0, width: 1141, height: 624, background: '#fff', overflow: 'hidden' }}>
      <div style={{ position: 'absolute', left: 0, top: 0 }}>
        <TopChart />
      </div>
      <div style={{ position: 'absolute', left: 0, top: 330 }}>
        <BottomChart />
      </div>
      <svg width={1141} height={624} style={{ position: 'absolute', left: 0, top: 0, pointerEvents: 'none' }}>
        <Title x={17} y={124.5} color="#0000ff">Speed (Km/h)</Title>
        <Title x={66} y={124.5} color="#00e000">SOC (%)</Title>
        <Title x={116} y={124.5} color="#ff0000">Current (A)</Title>
        <Title x={167} y={125} color="#111">Voltage (V)</Title>
        <Title x={1012} y={124} color="#00e5ee">Temperature1 (°C)</Title>
        <Title x={1066} y={124} color="#ff00ff">Temperature2 (°C)</Title>
        <Title x={1124} y={124} color="#008000">Temperature3 (°C)</Title>
        <text x={557} y={595} textAnchor="middle" dominantBaseline="central" fontSize={20} fontFamily={FONT} fill="#111">December 3, 2019</text>
        <rect x={21} y={334} width={1101} height={283} fill="none" stroke={orange} strokeWidth={2.5} strokeDasharray="10 6" />
        <rect x={943} y={22} width={8} height={194} fill="none" stroke={orange} strokeWidth={2.2} strokeDasharray="2 2" />
        <line x1={945} y1={219} x2={829} y2={334} stroke={orange} strokeWidth={2.5} strokeDasharray="9 7" />
        <line x1={949} y1={219} x2={858} y2={334} stroke={orange} strokeWidth={2.5} strokeDasharray="9 7" />
      </svg>
    </div>
  );
}
